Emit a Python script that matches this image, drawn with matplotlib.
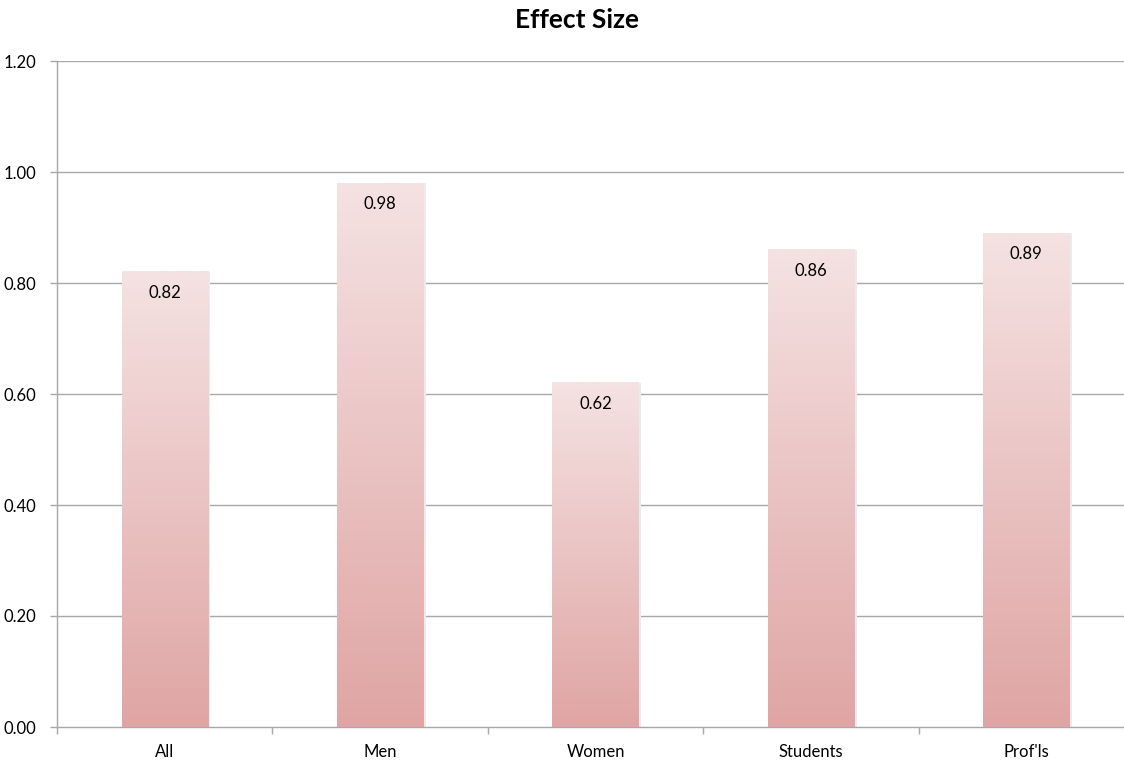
import numpy as np
import matplotlib.pyplot as plt
from matplotlib.colors import LinearSegmentedColormap

categories = ["All", "Men", "Women", "Students", "Prof'ls"]
effect_sizes = [0.82, 0.98, 0.62, 0.86, 0.89]
y_ticks = [0.0, 0.2, 0.4, 0.6, 0.8, 1.0, 1.2]

plt.rcParams['font.family'] = ['Lato', 'DejaVu Sans']

fig = plt.figure(figsize=(11.24, 7.6), dpi=100)
ax = fig.add_axes([57 / 1124, 33 / 760, 1077 / 1124, 666 / 760])

x = np.arange(len(categories))

grid_col = '#a8a8a8'
for t in y_ticks[1:]:
    ax.axhline(t, color=grid_col, lw=1.0, zorder=1)

# each bar fades from darker rose at the base to pale pink at the top
cmap = LinearSegmentedColormap.from_list('rose', ['#dfa5a4', '#f5e2e2'])
grad = np.linspace(0, 1, 256).reshape(-1, 1)

bars = ax.bar(x, effect_sizes, width=0.4, color='none', edgecolor='none', zorder=3)
for b, v in zip(bars, effect_sizes):
    x0 = b.get_x()
    w = b.get_width()
    # faint shadow on the right side
    ax.add_patch(plt.Rectangle((x0 + w, 0), 0.012, v, color='#ebebeb', lw=0, zorder=2))
    ax.imshow(grad, extent=(x0, x0 + w, 0, v), origin='lower', aspect='auto',
              cmap=cmap, vmin=0, vmax=1, zorder=3)
    ax.annotate(f"{v:.2f}", (x0 + w / 2, v), xytext=(0, -15), textcoords='offset points',
                ha='center', va='center', fontsize=12, color='black', zorder=5)

ax.set_xlim(-0.5, len(categories) - 0.5)
ax.set_ylim(0, 1.2)

ax.set_yticks(y_ticks)
ax.set_yticklabels([f"{t:.2f}" for t in y_ticks], fontsize=12)
ax.set_xticks(x)
ax.set_xticklabels(categories, fontsize=12)
ax.set_xticks(np.arange(-0.5, len(categories), 1.0), minor=True)
ax.tick_params(axis='x', which='major', length=0, pad=12)
ax.tick_params(axis='x', which='minor', length=5, color=grid_col, width=1)
ax.tick_params(axis='y', length=5, color=grid_col, width=1, pad=10)

for s in ['top', 'right']:
    ax.spines[s].set_visible(False)
for s in ['left', 'bottom']:
    ax.spines[s].set_color(grid_col)
    ax.spines[s].set_linewidth(1.0)

fig.text(577 / 1124, 1 - 20 / 760, "Effect Size", ha='center', va='center',
         fontsize=19, fontweight='bold')

fig.savefig('out.png', dpi=100)
